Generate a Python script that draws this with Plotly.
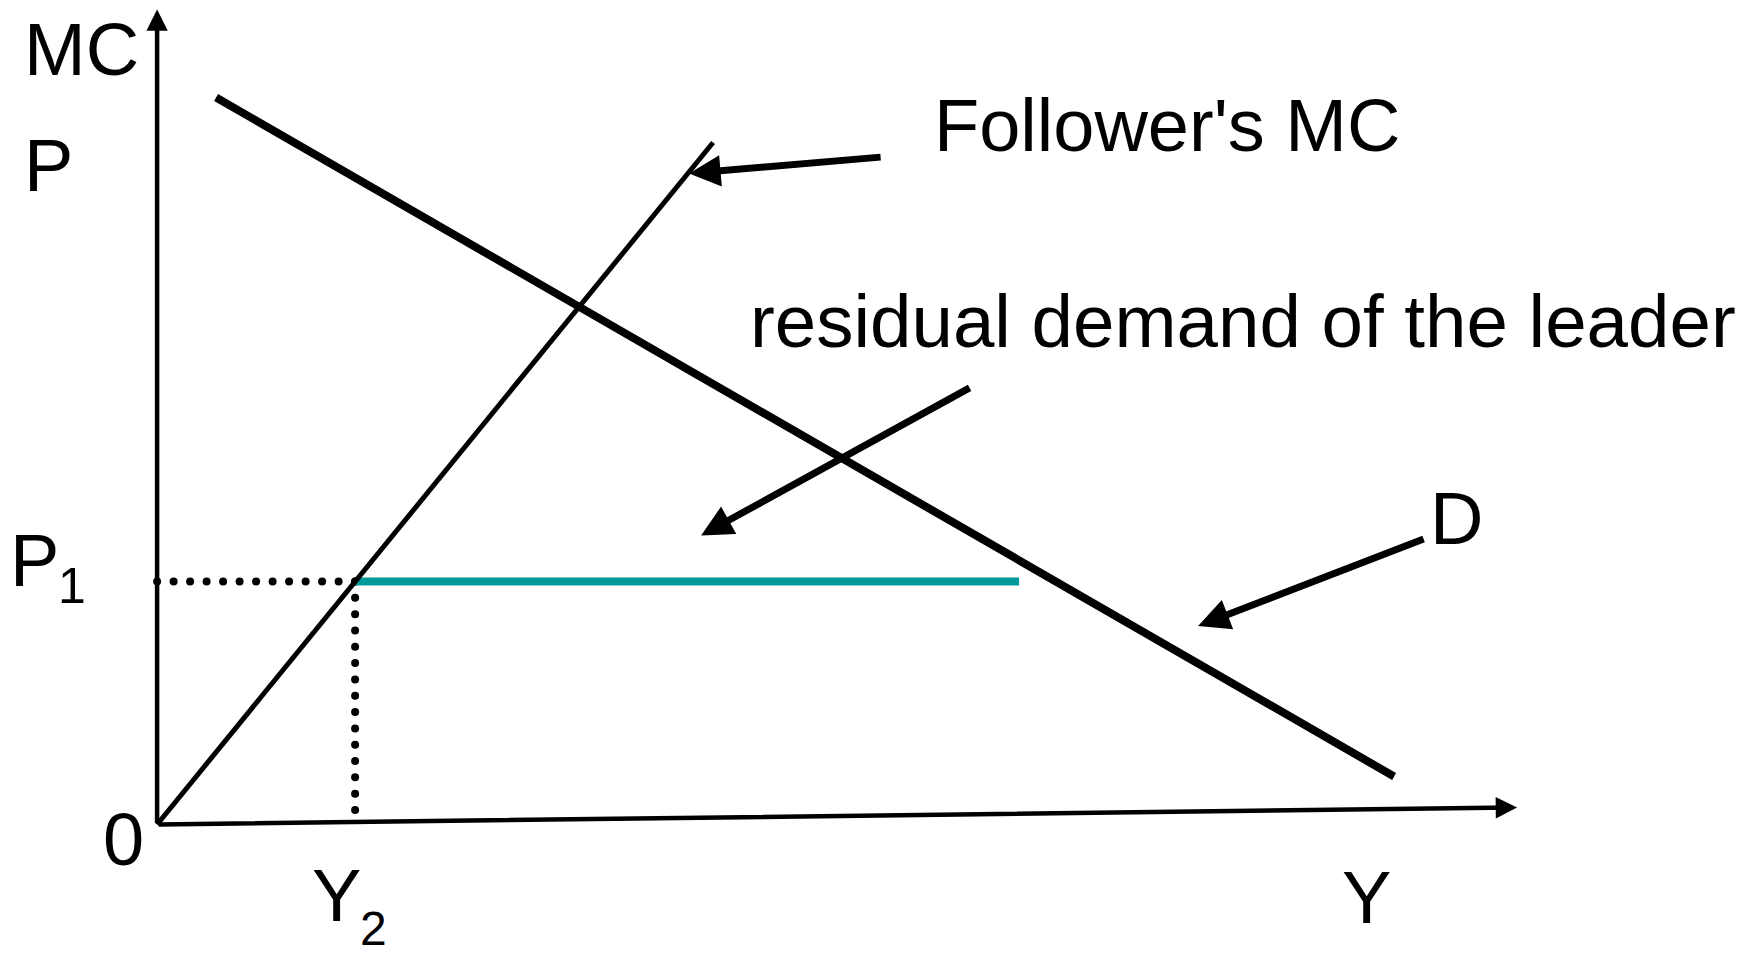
import numpy as np
import plotly.graph_objects as go

# ---- data (diagram units: quantity Y on x, price/MC on y) ----
mc_q = [0.0, 55.6]          # follower's marginal cost curve
mc_p = [0.0, 68.2]
demand_q = [5.9, 123.7]     # market demand D
demand_p = [72.7, 4.8]
p1 = 24.3                   # price P1
y2 = 19.8                   # follower output Y2
residual_end_q = 86.2       # end of leader's residual demand segment
y_axis_top = 81.5
x_axis_end = [136.0, 1.7]   # slight tilt of the horizontal axis as drawn

# arrows: (tail_q, tail_p, head_q, head_p)
arrow_mc = [72.5, 66.75, 53.2, 65.1]
arrow_resid = [81.4, 43.75, 54.4, 28.9]
arrow_d = [126.8, 28.6, 104.1, 19.85]

# labels: (text, q, p, size)
labels = [
    ("MC", -7.6, 77.5, 74),
    ("P", -10.9, 65.9, 74),
    ("P", -12.3, 26.4, 74),
    ("1", -8.5, 23.9, 50),
    ("0", -3.4, -1.5, 74),
    ("Y", 17.9, -7.1, 74),
    ("2", 21.65, -10.4, 48),
    ("Y", 120.9, -7.3, 74),
    ("Follower's MC", 101.0, 69.9, 74),
    ("residual demand of the leader", 108.6, 50.3, 74.5),
    ("D", 129.9, 30.6, 74),
]

FONT = "Liberation Sans, Arial, sans-serif"

fig = go.Figure()

# dotted guides to P1 and Y2
h_dots_q = np.linspace(0, y2, 13)
v_dots_p = np.linspace(p1, 1.45, 15)
fig.add_trace(go.Scatter(x=h_dots_q, y=[p1] * len(h_dots_q), mode="markers",
                         marker=dict(color="black", size=8), hoverinfo="skip"))
fig.add_trace(go.Scatter(x=[y2] * len(v_dots_p), y=v_dots_p, mode="markers",
                         marker=dict(color="black", size=8), hoverinfo="skip"))

# residual demand segment (teal)
fig.add_trace(go.Scatter(x=[y2, residual_end_q], y=[p1, p1], mode="lines",
                         line=dict(color="#009999", width=8), hoverinfo="skip"))
# follower's MC
fig.add_trace(go.Scatter(x=mc_q, y=mc_p, mode="lines",
                         line=dict(color="black", width=5), hoverinfo="skip"))
# demand
fig.add_trace(go.Scatter(x=demand_q, y=demand_p, mode="lines",
                         line=dict(color="black", width=8), hoverinfo="skip"))

annotations = []
# axes as arrows
annotations.append(dict(x=0, y=y_axis_top, ax=0, ay=0, xref="x", yref="y",
                        axref="x", ayref="y", text="", showarrow=True,
                        arrowhead=2, arrowsize=0.95, arrowwidth=4.5,
                        arrowcolor="black", standoff=0))
annotations.append(dict(x=x_axis_end[0], y=x_axis_end[1], ax=0, ay=0, xref="x",
                        yref="y", axref="x", ayref="y", text="", showarrow=True,
                        arrowhead=2, arrowsize=0.95, arrowwidth=4.5,
                        arrowcolor="black", standoff=0))
for a in (arrow_mc, arrow_resid, arrow_d):
    annotations.append(dict(x=a[2], y=a[3], ax=a[0], ay=a[1], xref="x", yref="y",
                            axref="x", ayref="y", text="", showarrow=True,
                            arrowhead=2, arrowsize=0.9, arrowwidth=7,
                            arrowcolor="black", standoff=0))
for t, q, p, s in labels:
    annotations.append(dict(x=q, y=p, xref="x", yref="y", text=t, showarrow=False,
                            xanchor="center", yanchor="middle",
                            font=dict(family=FONT, size=s, color="black")))

fig.update_layout(
    width=1759, height=956, autosize=False,
    margin=dict(l=0, r=0, t=0, b=0),
    paper_bgcolor="white", plot_bgcolor="white",
    showlegend=False,
    xaxis=dict(range=[-15.71, 160.19], visible=False, fixedrange=True),
    yaxis=dict(range=[-13.15, 82.45], visible=False, fixedrange=True),
    annotations=annotations,
)

fig.write_html("out.html", config={"displayModeBar": False},
               post_script="document.body.style.margin='0';")
